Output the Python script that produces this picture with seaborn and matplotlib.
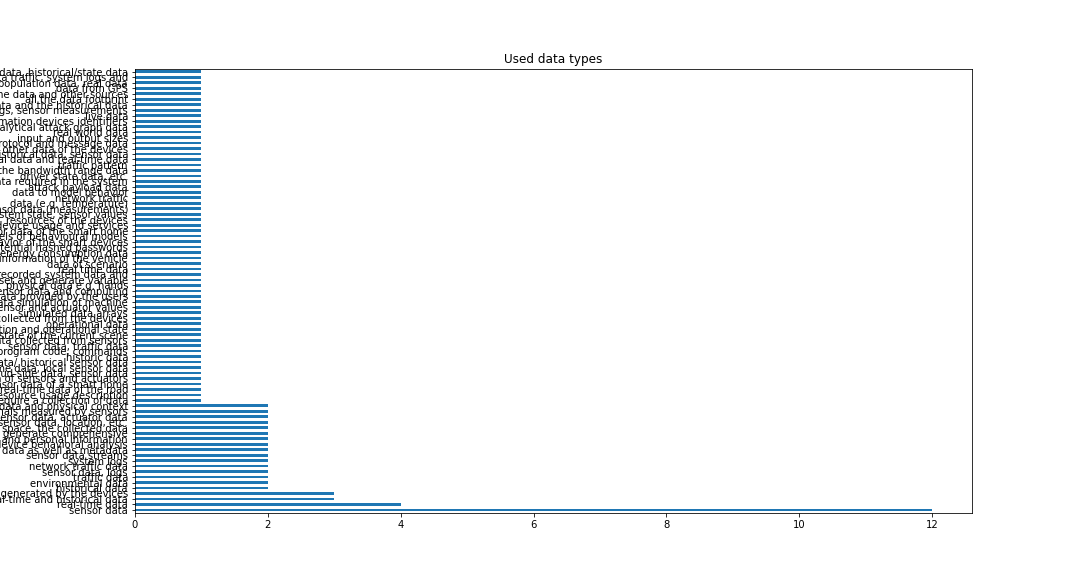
import pandas as pd
import matplotlib
matplotlib.use("Agg")
import matplotlib.pyplot as plt
import seaborn as sns

# labels in value_counts order (most frequent first)
data_types = [
    "sensor data", "real-time data", "real-time and historical data",
    "data generated by the devices",
    "historical data", "environmental data", "traffic data", "sensor data, logs",
    "network traffic data", "system logs", "sensor data streams",
    "data as well as metadata", "device behavioral analysis",
    "user data and personal information", "generate comprehensive",
    "space, the collected data", "sensor data, location, etc.",
    "sensor data, actuator data", "signals measured by sensors",
    "data and physical context",
    "require a collection of data", "resource usage description",
    "real-time data of the road", "sensor data of a smart home",
    "data of sensors and actuators", "cloud-side data, sensor data",
    "real-time data, local sensor data", "state data/ historical sensor data",
    "historic data", "program code, commands", "sensor data, traffic data",
    "data collected from sensors", "state of the current scene",
    "location and operational state", "operational data",
    "data collected from the devices", "simulated data arrays",
    "sensor and actuator values", "data simulation of machine",
    "data provided by the users", "sensor data and computing",
    "physical data e.g. hands", "set and generate variable",
    "recorded system data and", "real time data",
    "data of scenario", "sensing information of the vehicle",
    "energy consumption data", "potential hashed passwords",
    "behavior of the smart devices", "models of behavioural models",
    "sensor data of the smart home", "device usage and services",
    "resources of the devices", "system state, sensor values",
    "sensor data (measurements)", "data (e.g. temperature)",
    "network traffic", "data to model behavior",
    "attack payload data", "data required in the system",
    "driver state data, etc.", "the bandwidth range data",
    "traffic pattern", "historical data and real-time data",
    "historical data, sensor data", "the other data of the devices",
    "protocol and message data", "input and output sizes",
    "real world data", "analytical attack graph data",
    "information devices identifiers", "live data",
    "logs, sensor measurements", "data and the historical data",
    "all the data footprint", "online data and other sources",
    "data from GPS", "population data, real data",
    "data traffic, system logs and", "sensor data, historical/state data",
]
top_counts = [12, 4, 3, 3] + [2] * 16
counts = top_counts + [1] * (len(data_types) - len(top_counts))

df = pd.DataFrame({"type": data_types, "count": counts})

fig, ax = plt.subplots(figsize=(15, 8), dpi=72)
sns.barplot(data=df, y="type", x="count", order=data_types[::-1],
            color="#1f77b4", width=0.5, saturation=1, orient="h", ax=ax)
ax.set_title("Used data types")
ax.set_xlabel("")
ax.set_ylabel("")
ax.tick_params(axis="y", labelsize=10)
plt.savefig("out.png")
